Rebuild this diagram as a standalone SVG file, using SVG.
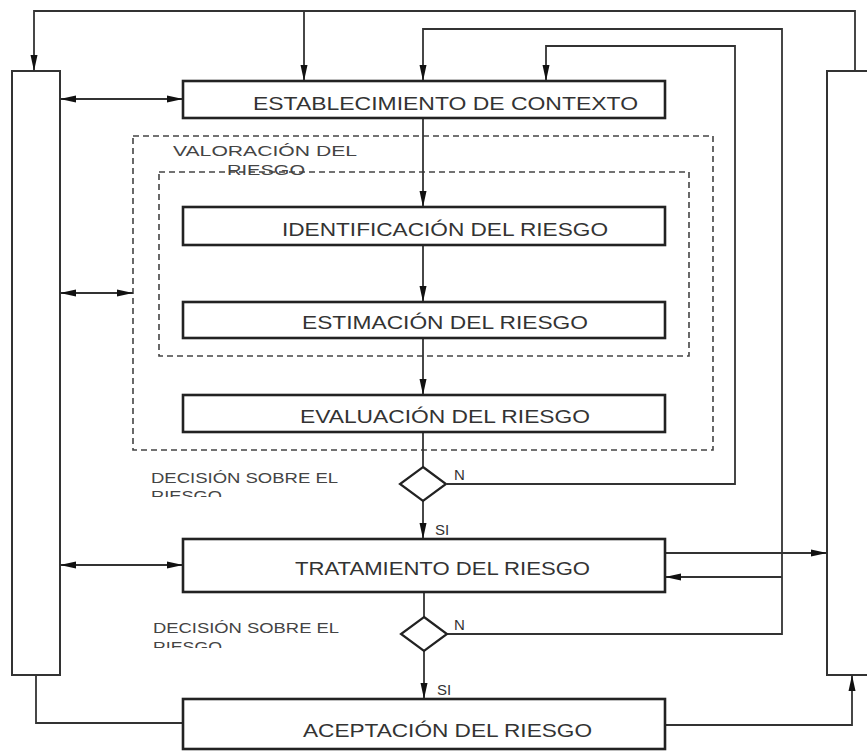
<svg xmlns="http://www.w3.org/2000/svg" width="867" height="751" viewBox="0 0 867 751">
<style>
.box{fill:#fff;stroke:#222;stroke-width:2.6}
.bar{fill:#fff;stroke:#333;stroke-width:2}
.dash{fill:none;stroke:#444;stroke-width:1.6;stroke-dasharray:6 4}
.ln{fill:none;stroke:#333;stroke-width:1.8}
.t{font-family:"Liberation Sans",Arial,sans-serif;font-size:19px;fill:#333}
.s{font-family:"Liberation Sans",Arial,sans-serif;font-size:14px;fill:#444}
.k{font-family:"Liberation Sans",Arial,sans-serif;font-size:15px;fill:#333}
</style>
<defs>
<marker id="ah" markerUnits="userSpaceOnUse" markerWidth="17" markerHeight="8" refX="16" refY="4" orient="auto-start-reverse">
<path d="M0,0.5 L16,4 L0,7.5 z" fill="#111"/>
</marker>
<clipPath id="c1"><rect x="140" y="485" width="120" height="12"/></clipPath>
<clipPath id="c2"><rect x="140" y="636" width="120" height="12"/></clipPath>
</defs>

<g id="bars">
<rect id="leftbar" class="bar" x="12" y="71" width="48" height="604"/>
<rect id="rightbar" class="bar" x="827" y="71" width="50" height="604"/>
</g>

<g id="valoracion">
<rect class="dash" x="133" y="136" width="580" height="314"/>
<text class="s" x="173" y="156" textLength="184" lengthAdjust="spacingAndGlyphs" style="font-size:15px">VALORACIÓN DEL</text>
</g>
<g id="inner">
<rect class="dash" x="159" y="172" width="530" height="184"/>
<text class="s" x="227" y="175" textLength="78" lengthAdjust="spacingAndGlyphs" style="font-size:15px">RIESGO</text>
</g>

<g id="connectors">
<path class="ln" d="M855,71 V11 H34 V71" marker-end="url(#ah)"/>
<path class="ln" d="M304,11 V81" marker-end="url(#ah)"/>
<path class="ln" d="M447,634 H782 V29 H423 V81" marker-end="url(#ah)"/>
<path class="ln" d="M782,577 H665" marker-end="url(#ah)"/>
<path class="ln" d="M447,484 H735 V46 H546 V81" marker-end="url(#ah)"/>
<path class="ln" d="M423,118 V207" marker-end="url(#ah)"/>
<path class="ln" d="M423,245 V302" marker-end="url(#ah)"/>
<path class="ln" d="M423,338 V395" marker-end="url(#ah)"/>
<path class="ln" d="M423,432 V467"/>
<path class="ln" d="M423,501 V539" marker-end="url(#ah)"/>
<path class="ln" d="M424,592 V617"/>
<path class="ln" d="M424,650 V699" marker-end="url(#ah)"/>
<path class="ln" d="M60,99 H183" marker-start="url(#ah)" marker-end="url(#ah)"/>
<path class="ln" d="M60,293 H133" marker-start="url(#ah)" marker-end="url(#ah)"/>
<path class="ln" d="M60,565 H183" marker-start="url(#ah)" marker-end="url(#ah)"/>
<path class="ln" d="M665,553 H827" marker-end="url(#ah)"/>
<path class="ln" d="M36,675 V723 H183"/>
<path class="ln" d="M665,725 H852 V675" marker-end="url(#ah)"/>
</g>

<g id="establecimiento">
<rect class="box" x="183" y="81" width="482" height="37"/>
<text class="t" x="253" y="110" textLength="385" lengthAdjust="spacingAndGlyphs">ESTABLECIMIENTO DE CONTEXTO</text>
</g>
<g id="identificacion">
<rect class="box" x="183" y="207" width="482" height="38"/>
<text class="t" x="282" y="236" textLength="326" lengthAdjust="spacingAndGlyphs">IDENTIFICACIÓN DEL RIESGO</text>
</g>
<g id="estimacion">
<rect class="box" x="183" y="302" width="482" height="36"/>
<text class="t" x="302" y="329" textLength="286" lengthAdjust="spacingAndGlyphs">ESTIMACIÓN DEL RIESGO</text>
</g>
<g id="evaluacion">
<rect class="box" x="183" y="395" width="482" height="37"/>
<text class="t" x="300" y="423" textLength="290" lengthAdjust="spacingAndGlyphs">EVALUACIÓN DEL RIESGO</text>
</g>
<g id="decision1">
<polygon class="box" style="stroke-width:2.2" points="423,467 446,484 423,501 400,484"/>
<text class="k" x="454" y="480">N</text>
<text class="k" x="435" y="535">SI</text>
<text class="s" x="151" y="483" textLength="187" lengthAdjust="spacingAndGlyphs">DECISIÓN SOBRE EL</text>
<text class="s" x="151" y="501" textLength="71" lengthAdjust="spacingAndGlyphs" clip-path="url(#c1)">RIESGO</text>
</g>
<g id="tratamiento">
<rect class="box" x="183" y="539" width="482" height="53"/>
<text class="t" x="295" y="575" textLength="295" lengthAdjust="spacingAndGlyphs">TRATAMIENTO DEL RIESGO</text>
</g>
<g id="decision2">
<polygon class="box" style="stroke-width:2.2" points="424,617 447,634 424,651 401,634"/>
<text class="k" x="454" y="630">N</text>
<text class="k" x="437" y="695">SI</text>
<text class="s" x="153" y="633" textLength="186" lengthAdjust="spacingAndGlyphs">DECISIÓN SOBRE EL</text>
<text class="s" x="153" y="652" textLength="69" lengthAdjust="spacingAndGlyphs" clip-path="url(#c2)">RIESGO</text>
</g>
<g id="aceptacion">
<rect class="box" x="183" y="699" width="482" height="50"/>
<text class="t" x="303" y="737" textLength="289" lengthAdjust="spacingAndGlyphs">ACEPTACIÓN DEL RIESGO</text>
</g>
</svg>
